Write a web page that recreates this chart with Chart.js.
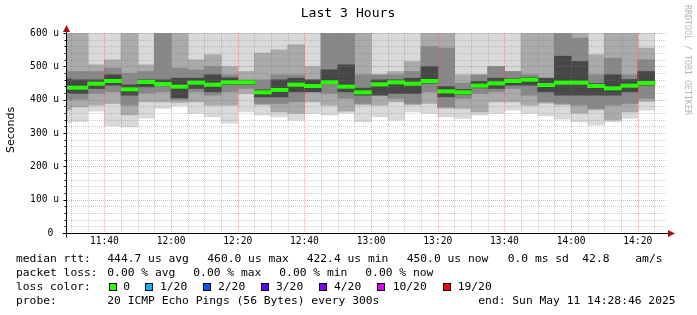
<!DOCTYPE html>
<html>
<head>
<meta charset="utf-8">
<script src="https://cdn.jsdelivr.net/npm/chart.js@4.4.1/dist/chart.umd.min.js"></script>
<style>
  html, body { margin: 0; padding: 0; background: #fff; }
  #wrap { width: 697px; height: 315px; }
</style>
</head>
<body>
<div id="wrap"><canvas id="chart" width="697" height="315"></canvas></div>
<script>
// 5 minute rrd steps (end time of each step)
const slotEnds = ["11:30","11:35","11:40","11:45","11:50","11:55","12:00","12:05","12:10","12:15",
                  "12:20","12:25","12:30","12:35","12:40","12:45","12:50","12:55","13:00","13:05",
                  "13:10","13:15","13:20","13:25","13:30","13:35","13:40","13:45","13:50","13:55",
                  "14:00","14:05","14:10","14:15","14:20","14:25"];

// median rtt per step (us)
const medianRtt = [436,436,448,456,431,453,447,439,451,445,452,452,422,429,445,441,452,439,
                   422,446,452,448,456,425,422,442,449,456,460,444,451,451,441,434,442,450];

// smoke: sorted ping spread per step (us), outer -> inner
const minRtt    = [330,335,366,322,319,345,374,382,359,349,330,364,354,349,339,359,354,360,
                   334,349,339,364,359,349,344,354,359,369,359,352,342,334,324,334,344,369];
const lowOuter  = [370,379,384,389,355,394,394,392,394,384,384,419,385,364,359,394,384,366,
                   385,384,394,385,389,375,374,364,394,394,384,390,385,360,370,340,364,395];
const lowMid    = [400,402,419,424,384,420,424,400,424,414,424,434,389,389,394,424,419,404,
                   389,414,404,389,424,379,404,419,424,434,414,394,389,384,374,384,389,404];
const lowInner  = [420,419,434,444,414,439,443,406,434,424,446,446,409,409,424,424,448,424,
                   414,414,419,419,450,409,416,436,434,444,444,424,414,414,414,414,424,444];
const highInner = [462,459,459,474,444,459,459,464,464,474,465,457,429,459,464,459,489,504,
                   434,459,459,464,499,439,430,454,464,462,466,464,530,514,448,474,460,484];
const highMid   = [484,484,484,494,479,484,600,494,489,499,474,459,459,474,474,459,600,600,
                   474,474,474,484,559,554,449,474,499,484,474,464,600,584,474,524,474,519];
const highOuter = [600,600,504,519,600,504,600,600,519,534,499,484,539,549,564,499,600,600,
                   600,474,484,514,600,600,474,474,499,484,600,600,600,600,534,600,600,554];
const maxRtt    = [600,600,600,600,600,600,600,600,600,600,600,600,600,600,600,600,600,600,
                   600,600,600,600,600,600,600,600,600,600,600,600,600,600,600,600,600,600];

const yTicks = [0, 100, 200, 300, 400, 500, 600];
const xTickTimes = ["11:40","12:00","12:20","12:40","13:00","13:20","13:40","14:00","14:20"];
const endTime = "14:28:46";

const rttStats = ["444.7 us avg", "460.0 us max", "422.4 us min", "450.0 us now", "0.0 ms sd", "42.8", "am/s"];
const lossStats = ["0.00 % avg", "0.00 % max", "0.00 % min", "0.00 % now"];
const lossLabels = ["0", "1/20", "2/20", "3/20", "4/20", "10/20", "19/20"];
const lossColors = ["#26ff00", "#00b8ff", "#0059ff", "#5e00ff", "#7e00ff", "#dd00ff", "#ff0000"];
const probeText = "20 ICMP Echo Pings (56 Bytes) every 300s";
const endText = "end: Sun May 11 14:28:46 2025";

function toMin(s) {
    const p = s.split(":").map(Number);
    return p[0] * 60 + p[1] + (p[2] || 0) / 60;
}
function fmtMin(v) {
    const h = Math.floor(v / 60), m = Math.round(v - h * 60);
    return String(h).padStart(2, "0") + ":" + String(m).padStart(2, "0");
}

const xMax = toMin(endTime);
const xMin = xMax - 180;
const centers = slotEnds.map(s => toMin(s) - 2.5);

function band(lo, hi) {
    return centers.map((x, i) => ({ x, y: [lo[i], hi[i]] }));
}

const MONO = '"DejaVu Sans Mono", monospace';

function bandSet(label, lo, hi, color, order) {
    return {
        label, data: band(lo, hi), backgroundColor: color, borderWidth: 0,
        grouped: false, barPercentage: 1, categoryPercentage: 1, inflateAmount: 0.5, order
    };
}

// dotted grid drawn over the smoke, under the median
const gridPlugin = {
    id: "rrdGrid",
    afterDatasetDraw(chart, args) {
        if (args.index !== 1) return;
        const { ctx, chartArea: a, scales: { x, y } } = chart;
        ctx.save();
        ctx.lineWidth = 1;
        ctx.setLineDash([1, 1]);
        // minor
        ctx.strokeStyle = "rgba(120,120,120,0.35)";
        ctx.beginPath();
        for (let v = 20; v < 600; v += 20) {
            if (v % 100 === 0) continue;
            const py = Math.round(y.getPixelForValue(v)) + 0.5;
            ctx.moveTo(a.left, py); ctx.lineTo(a.right, py);
        }
        for (let t = Math.ceil(xMin / 5) * 5; t < xMax; t += 5) {
            if (t % 20 === 0) continue;
            const px = Math.round(x.getPixelForValue(t)) + 0.5;
            ctx.moveTo(px, a.top); ctx.lineTo(px, a.bottom);
        }
        ctx.stroke();
        // major
        ctx.strokeStyle = "rgba(255,70,70,0.5)";
        ctx.beginPath();
        for (let v = 100; v <= 600; v += 100) {
            const py = Math.round(y.getPixelForValue(v)) + 0.5;
            ctx.moveTo(a.left, py); ctx.lineTo(a.right, py);
        }
        for (let t = Math.ceil(xMin / 20) * 20; t < xMax; t += 20) {
            const px = Math.round(x.getPixelForValue(t)) + 0.5;
            ctx.moveTo(px, a.top); ctx.lineTo(px, a.bottom);
        }
        ctx.stroke();
        ctx.restore();
    }
};

// axes with arrows, title and the smokeping legend
const decoPlugin = {
    id: "rrdDeco",
    afterDraw(chart) {
        const { ctx, chartArea: a, scales: { y } } = chart;
        ctx.save();
        const ax = Math.round(a.left) - 0.5, ay = Math.round(a.bottom) + 0.5;
        ctx.strokeStyle = "#000";
        ctx.lineWidth = 1;
        ctx.beginPath();
        // small ticks on y axis
        for (let v = 20; v <= 600; v += 20) {
            const py = Math.round(y.getPixelForValue(v)) + 0.5;
            ctx.moveTo(ax - (v % 100 === 0 ? 3 : 2), py); ctx.lineTo(ax, py);
        }
        ctx.moveTo(ax, ay + 4); ctx.lineTo(ax, a.top - 5);
        ctx.moveTo(ax - 4, ay); ctx.lineTo(a.right + 5, ay);
        ctx.stroke();
        ctx.fillStyle = "#a01010";
        ctx.beginPath();
        ctx.moveTo(ax, a.top - 8); ctx.lineTo(ax - 3.5, a.top - 1); ctx.lineTo(ax + 3.5, a.top - 1); ctx.closePath();
        ctx.fill();
        ctx.beginPath();
        ctx.moveTo(a.right + 8, ay); ctx.lineTo(a.right + 1, ay - 3.5); ctx.lineTo(a.right + 1, ay + 3.5); ctx.closePath();
        ctx.fill();

        ctx.fillStyle = "#000";
        ctx.textBaseline = "middle";
        ctx.textAlign = "center";
        ctx.font = "13.1px " + MONO;
        ctx.fillText("Last 3 Hours", 348, 14);

        ctx.save();
        ctx.translate(11, 130);
        ctx.rotate(-Math.PI / 2);
        ctx.font = '11px "DejaVu Sans", sans-serif';
        ctx.fillText("Seconds", 0, 0);
        ctx.restore();

        ctx.save();
        ctx.translate(687, 60);
        ctx.rotate(Math.PI / 2);
        ctx.fillStyle = "#b4b4b4";
        ctx.font = "8.3px " + MONO;
        ctx.fillText("RRDTOOL / TOBI OETIKER", 0, 0);
        ctx.restore();

        ctx.textAlign = "left";
        ctx.font = "11.3px " + MONO;
        const row = [259.5, 273.5, 287.5, 301.5];
        ctx.fillText("median rtt:", 16, row[0]);
        [107.3, 207.3, 306.7, 406.7, 507.7, 582.3, 635.3].forEach((x, i) => ctx.fillText(rttStats[i], x, row[0]));
        ctx.fillText("packet loss:", 16, row[1]);
        [107.3, 193.3, 279.3, 365.3].forEach((x, i) => ctx.fillText(lossStats[i], x, row[1]));
        ctx.fillText("loss color:", 16, row[2]);
        const sq = [108.7, 145.3, 203.3, 261.3, 319.3, 377.3, 442.7];
        const lx = [123.3, 160, 218, 276, 334, 392.7, 457.7];
        sq.forEach((x, i) => {
            ctx.fillStyle = lossColors[i];
            ctx.fillRect(Math.round(x), 283, 8, 8);
            ctx.strokeStyle = "#000";
            ctx.strokeRect(Math.round(x) + 0.5, 283.5, 7, 7);
            ctx.fillStyle = "#000";
            ctx.fillText(lossLabels[i], lx[i], row[2]);
        });
        ctx.fillText("probe:", 16, row[3]);
        ctx.fillText(probeText, 107.3, row[3]);
        ctx.fillText(endText, 478.3, row[3]);
        ctx.restore();
    }
};

const medianHalf = 4.5;
const medianBar = centers.map((x, i) => ({ x, y: [medianRtt[i] - medianHalf, medianRtt[i] + medianHalf] }));

new Chart(document.getElementById("chart"), {
    type: "bar",
    data: {
        datasets: [
            { label: "median", data: medianBar, backgroundColor: "#26ff00", borderWidth: 0,
              grouped: false, barPercentage: 1, categoryPercentage: 1, inflateAmount: 0.5, order: 0 },
            bandSet("smoke4", lowInner, highInner, "#474747", 1),
            bandSet("smoke3", lowMid, highMid, "#888888", 2),
            bandSet("smoke2", lowOuter, highOuter, "#aaaaaa", 3),
            bandSet("smoke1", minRtt, maxRtt, "#d9d9d9", 4)
        ]
    },
    options: {
        responsive: false,
        animation: false,
        events: [],
        layout: { padding: { left: 0, right: 30, top: 33, bottom: 62 } },
        plugins: { legend: { display: false }, tooltip: { enabled: false }, title: { display: false } },
        scales: {
            x: {
                type: "linear",
                min: xMin,
                max: xMax,
                offset: false,
                grid: { display: false, drawTicks: false },
                border: { display: false },
                afterBuildTicks: s => { s.ticks = xTickTimes.map(t => ({ value: toMin(t) })); },
                afterFit: s => { s.height = 20; },
                ticks: {
                    autoSkip: false, maxRotation: 0, padding: 3, color: "#000",
                    font: { family: MONO, size: 9.6 },
                    callback: v => fmtMin(v)
                }
            },
            y: {
                min: 0,
                max: 600,
                grid: { display: false, drawTicks: false },
                border: { display: false },
                afterBuildTicks: s => { s.ticks = yTicks.map(v => ({ value: v })); },
                afterFit: s => { s.width = 67; },
                ticks: {
                    padding: 8, color: "#000",
                    font: { family: MONO, size: 9.6 },
                    callback: v => v === 0 ? "0 " : v + " u"
                }
            }
        }
    },
    plugins: [gridPlugin, decoPlugin]
});
</script>
</body>
</html>
